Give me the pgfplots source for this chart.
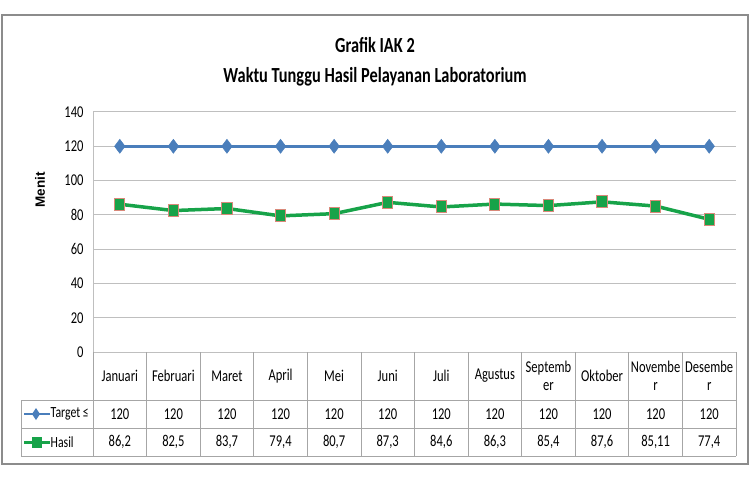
\documentclass[border=0pt]{standalone}
\usepackage{pgfplots}
\pgfplotsset{compat=1.18}
\usepackage{fontspec}
\setmainfont[FakeStretch=0.76]{Carlito}
\newfontfamily\menitfont{Liberation Sans}
\definecolor{tblue}{HTML}{4A7EBB}
\definecolor{hgreen}{HTML}{17A349}
\definecolor{hedge}{HTML}{D9897A}
\definecolor{gridc}{HTML}{BFBFBF}
\definecolor{tblc}{HTML}{A6A6A6}
\definecolor{framec}{HTML}{8C8C8C}
\begin{document}
\begin{tikzpicture}[x=1pt,y=1pt]
\useasboundingbox (0,0) rectangle (750,480);
\draw[framec, line width=1.5pt] (2,16) rectangle (748,465);
\node[anchor=base, font=\fontsize{21.5}{24}\selectfont\bfseries] at (375,427) {Grafik IAK 2};
\node[anchor=base, font=\fontsize{21.5}{24}\selectfont\bfseries] at (375,397) {Waktu Tunggu Hasil Pelayanan Laboratorium};
\node[rotate=90, font=\menitfont\bfseries\fontsize{13.5}{15}\selectfont] at (40,290) {Menit};
\begin{axis}[
  at={(93pt,128pt)}, anchor=south west,
  width=643pt, height=240pt, scale only axis,
  xmin=0.5, xmax=12.5, ymin=0, ymax=140,
  ytick={0,20,...,140},
  xtick={1,...,12},
  xticklabels={Januari,Februari,Maret,April,Mei,Juni,Juli,Agustus,{Septemb\\er},Oktober,{Novembe\\r},{Desembe\\r}},
  xticklabel style={align=center, anchor=center, yshift=-24pt},
  yticklabel style={xshift=-6pt},
  major tick length=0pt,
  ymajorgrids, grid style={gridc, line width=1pt},
  axis x line*=bottom, axis y line*=left,
  axis line style={gridc, line width=1pt},
  ticklabel style={font=\fontsize{16.5}{18.5}\selectfont},
  /pgf/number format/assume math mode=true,
  clip=false,
]
\addplot[tblue, line width=3pt, mark=diamond*, mark size=7pt, mark options={fill=tblue, draw=tblue, line width=0.5pt}]
  coordinates {(1,120)(2,120)(3,120)(4,120)(5,120)(6,120)(7,120)(8,120)(9,120)(10,120)(11,120)(12,120)};
\addplot[hgreen, line width=3.5pt, mark=square*, mark size=6pt, mark options={fill=hgreen, draw=hedge, line width=1pt, xscale=0.85}]
  coordinates {(1,86.2)(2,82.5)(3,83.7)(4,79.4)(5,80.7)(6,87.3)(7,84.6)(8,86.3)(9,85.4)(10,87.6)(11,85.11)(12,77.4)};
\end{axis}
% data table grid
\foreach \k in {0,...,12} {\draw[tblc, line width=0.8pt] ({93+53.583*\k},128) -- ({93+53.583*\k},24);}
\foreach \yy in {80,52,24} {\draw[tblc, line width=0.8pt] (21,\yy) -- (736,\yy);}
\draw[tblc, line width=0.8pt] (21,80) -- (21,24);
\foreach \v [count=\k] in {120,120,120,120,120,120,120,120,120,120,120,120}
  {\node[font=\fontsize{16.5}{18.5}\selectfont] at ({93+53.583*(\k-0.5)},66) {\v};}
\foreach \v [count=\k] in {86{,}2,82{,}5,83{,}7,79{,}4,80{,}7,87{,}3,84{,}6,86{,}3,85{,}4,87{,}6,85{,}11,77{,}4}
  {\node[font=\fontsize{16.5}{18.5}\selectfont] at ({93+53.583*(\k-0.5)},38) {\v};}
% legend keys
\draw[tblue, line width=2.5pt] (24,66) -- (50,66);
\fill[tblue] (36,72) -- (40,66) -- (36,60) -- (32,66) -- cycle;
\node[anchor=west, inner sep=0.5pt, font=\fontsize{15.5}{18}\selectfont] at (50,66) {Target ≤};
\draw[hgreen, line width=3pt] (24,38) -- (50,38);
\filldraw[fill=hgreen, draw=hgreen] (32,33) rectangle (41,43);
\node[anchor=west, inner sep=0.5pt, font=\fontsize{15.5}{18}\selectfont] at (50,38) {Hasil};
\end{tikzpicture}
\end{document}
